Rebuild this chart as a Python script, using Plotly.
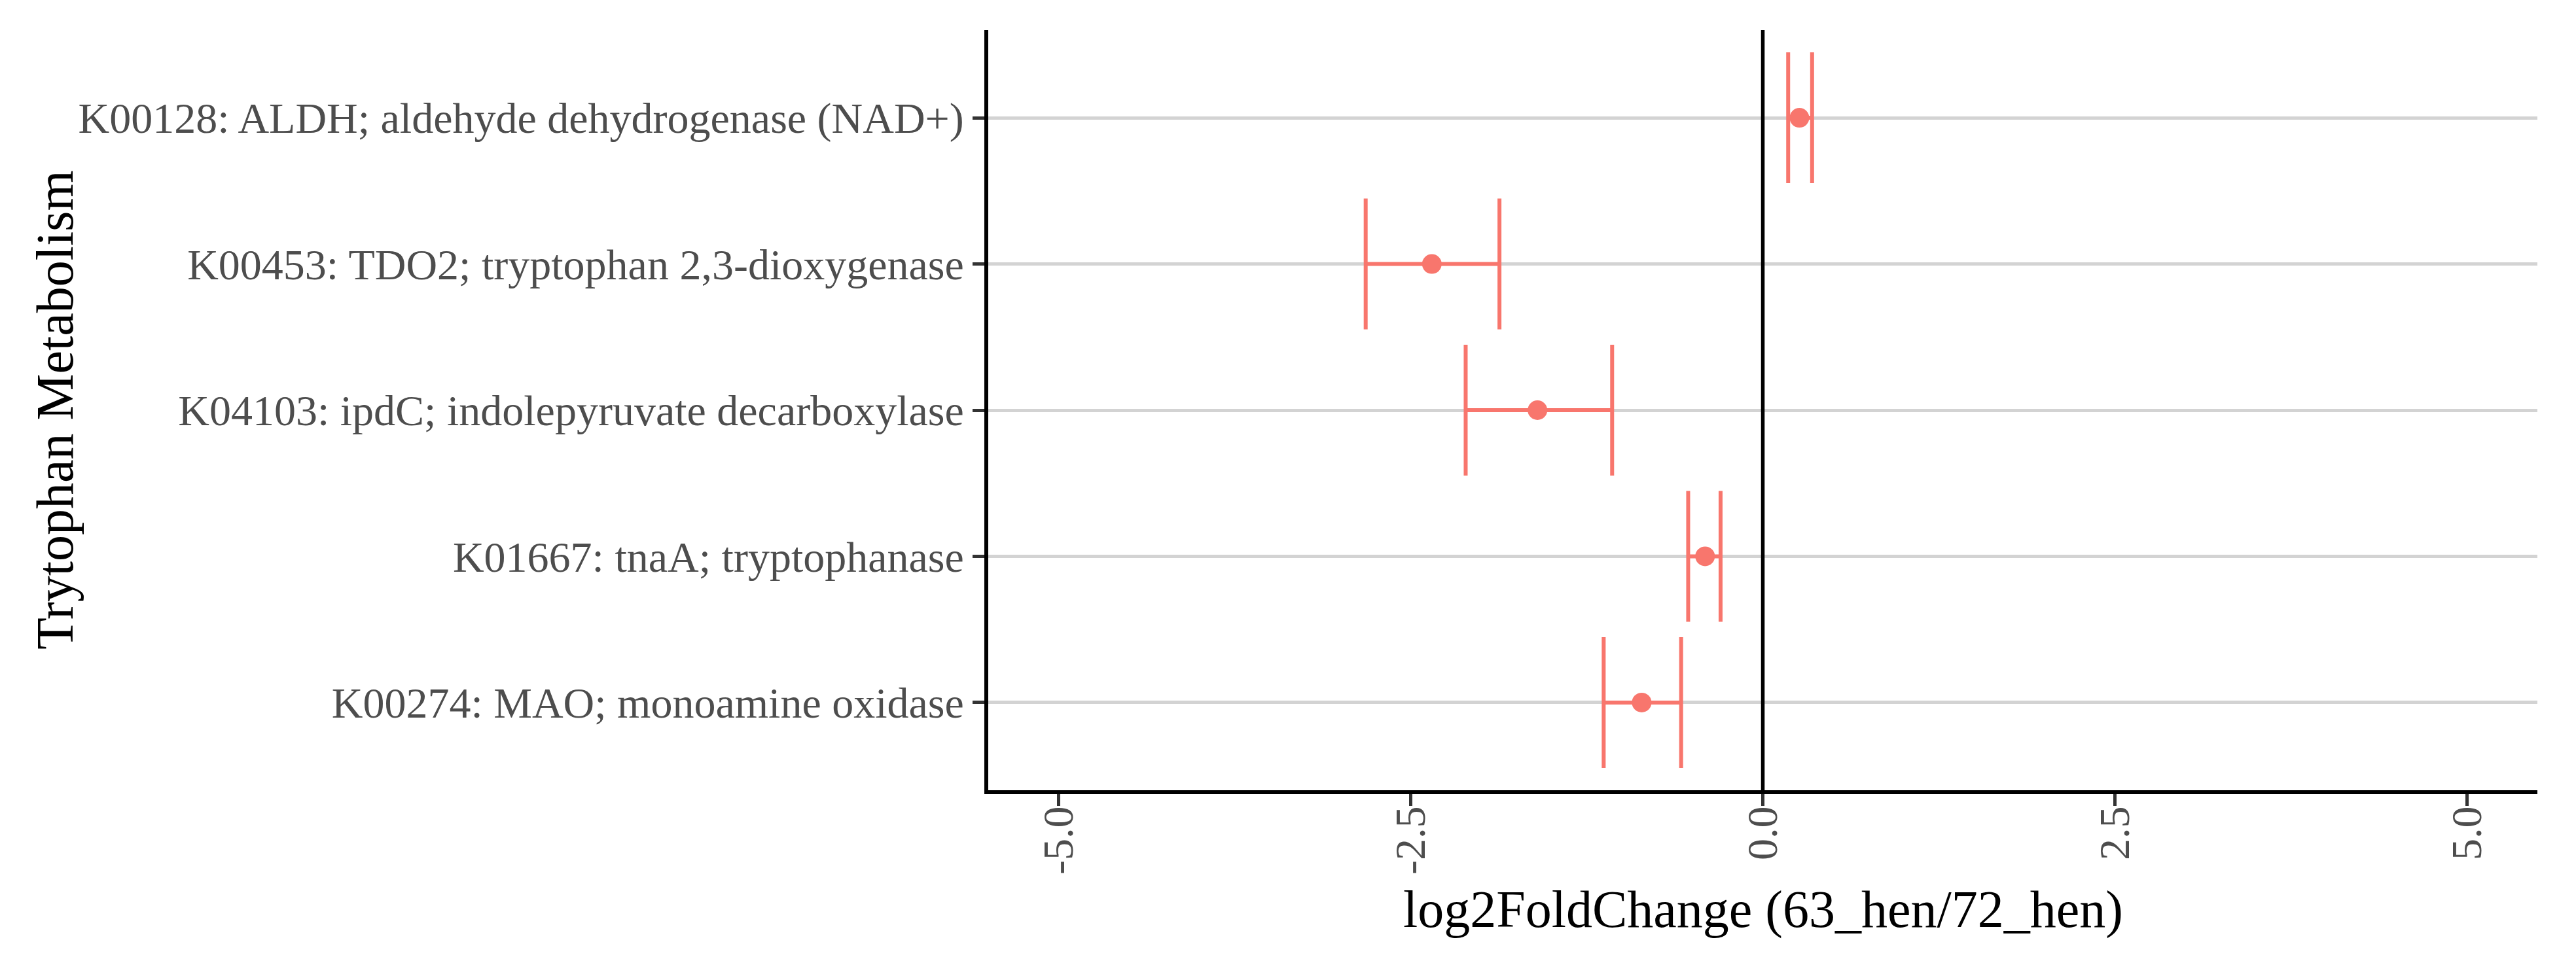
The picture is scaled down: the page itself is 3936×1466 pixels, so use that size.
import plotly.graph_objects as go

# ---- data ----
categories = [
    "K00274: MAO; monoamine oxidase",
    "K01667: tnaA; tryptophanase",
    "K04103: ipdC; indolepyruvate decarboxylase",
    "K00453: TDO2; tryptophan 2,3-dioxygenase",
    "K00128: ALDH; aldehyde dehydrogenase (NAD+)",
]
log2fc = [-0.86, -0.41, -1.60, -2.35, 0.26]
ci_low = [-1.13, -0.53, -2.11, -2.82, 0.18]
ci_high = [-0.58, -0.30, -1.07, -1.87, 0.35]

x_tick_vals = [-5.0, -2.5, 0.0, 2.5, 5.0]
x_tick_text = ["-5.0", "-2.5", "0.0", "2.5", "5.0"]

x_title = "log2FoldChange (63_hen/72_hen)"
y_title = "Trytophan Metabolism"

COLOR = "#F8766D"
FONT = "Liberation Serif"

err_plus = [h - v for h, v in zip(ci_high, log2fc)]
err_minus = [v - l for v, l in zip(log2fc, ci_low)]

fig = go.Figure()
fig.add_trace(go.Scatter(
    x=log2fc,
    y=categories,
    mode="markers",
    marker=dict(color=COLOR, size=30, line=dict(width=0)),
    error_x=dict(
        type="data",
        symmetric=False,
        array=err_plus,
        arrayminus=err_minus,
        color=COLOR,
        thickness=6,
        width=100,
    ),
    showlegend=False,
))

fig.add_vline(x=0, line=dict(color="black", width=5.5), layer="above")

fig.update_layout(
    width=3936,
    height=1466,
    margin=dict(l=1502, r=67, t=38, b=266),
    paper_bgcolor="white",
    plot_bgcolor="white",
    font=dict(family=FONT, color="#4d4d4d", size=66),
)

# axis titles placed as annotations for precise positioning
fig.add_annotation(
    text=x_title, xref="paper", yref="paper", x=0.5, y=0,
    xanchor="center", yanchor="middle", yshift=-182, showarrow=False,
    font=dict(family=FONT, size=80, color="black"),
)
fig.add_annotation(
    text=y_title, xref="paper", yref="paper", x=0, y=0.5,
    xanchor="center", yanchor="middle", xshift=-1426, textangle=-90, showarrow=False,
    font=dict(family=FONT, size=80, color="black"),
)

fig.update_xaxes(
    range=[-5.5, 5.5],
    tickmode="array",
    tickvals=x_tick_vals,
    ticktext=x_tick_text,
    tickangle=-90,
    ticklabelstandoff=-26,
    showgrid=False,
    zeroline=False,
    showline=True,
    linecolor="black",
    linewidth=6,
    ticks="outside",
    ticklen=18,
    tickwidth=5,
    tickcolor="#333333",
    tickfont=dict(family=FONT, size=66, color="#4d4d4d"),
)

fig.update_yaxes(
    type="category",
    categoryorder="array",
    categoryarray=categories,
    range=[-0.6, 4.6],
    showgrid=True,
    gridcolor="#d3d3d3",
    gridwidth=5,
    zeroline=False,
    showline=True,
    linecolor="black",
    linewidth=6,
    ticks="outside",
    ticklen=18,
    tickwidth=5,
    tickcolor="#333333",
    tickfont=dict(family=FONT, size=66, color="#4d4d4d"),
)

fig.write_html("out.html")
